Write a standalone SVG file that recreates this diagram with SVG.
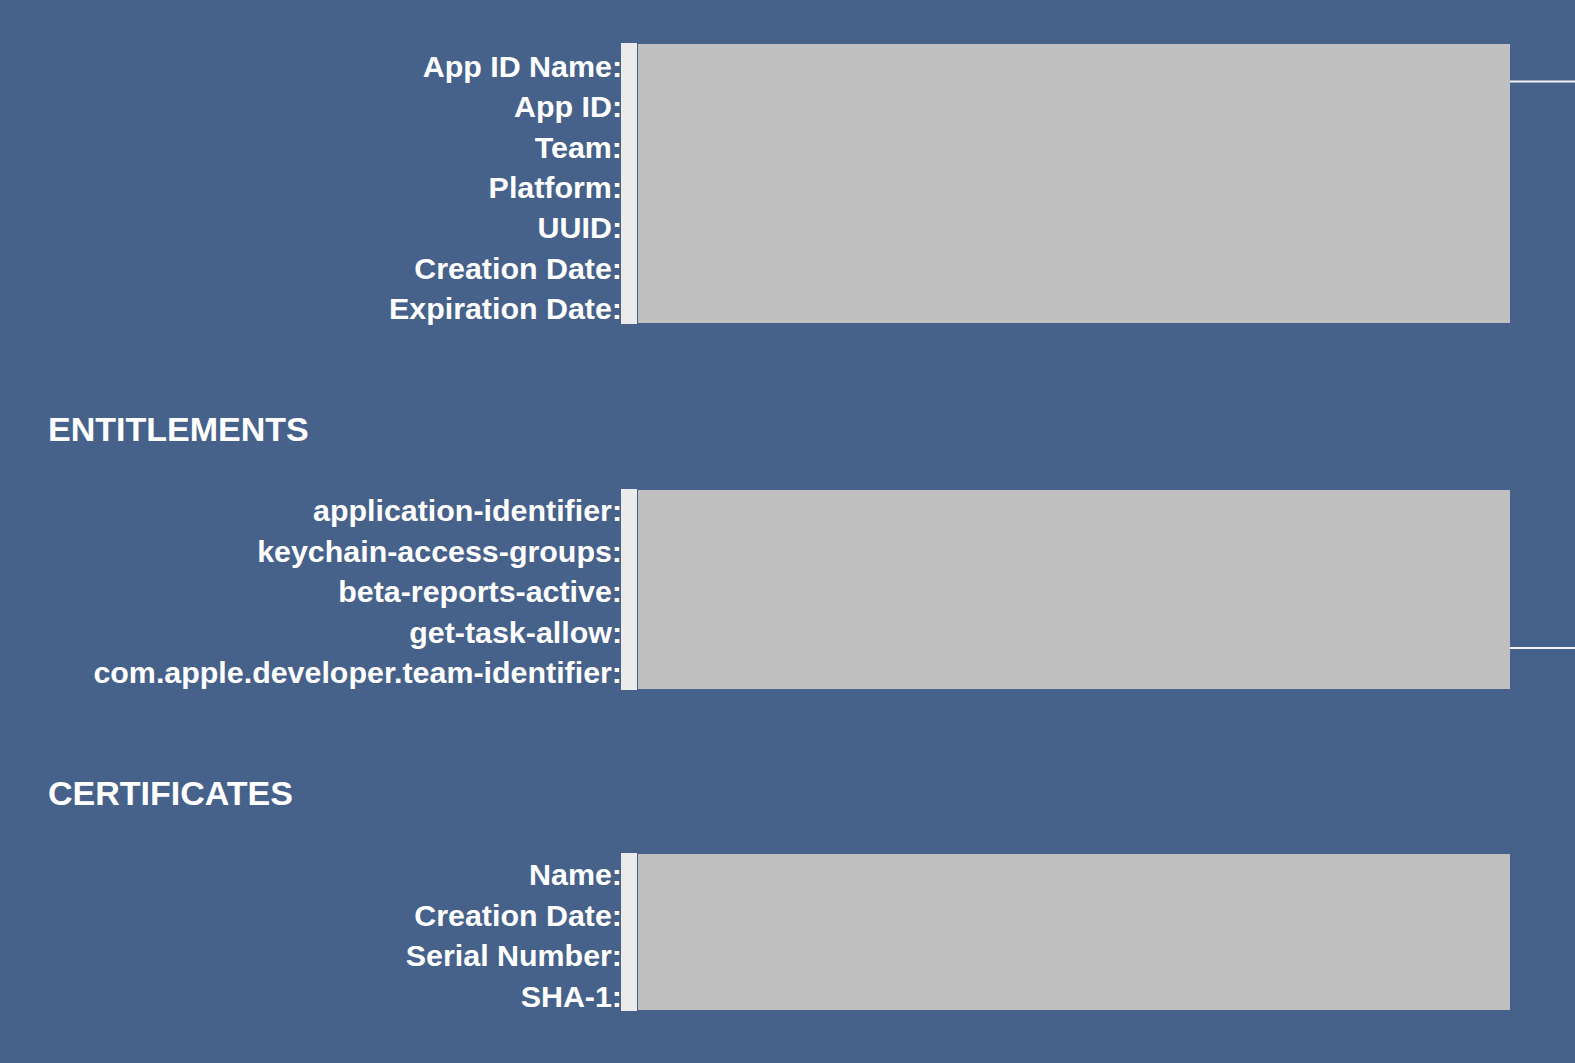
<svg xmlns="http://www.w3.org/2000/svg" width="1575" height="1063" viewBox="0 0 1575 1063">
<style>
.lbl{font-family:"Liberation Sans",Arial,sans-serif;font-weight:bold;font-size:30.4px;fill:#ffffff;text-anchor:end}
.hd{font-family:"Liberation Sans",Arial,sans-serif;font-weight:bold;font-size:34px;fill:#ffffff}
.strip{fill:#ebebeb}
.box{fill:#c0c0c0}
.conn{stroke:#f2f2f2;stroke-width:2;fill:none}
</style>
<rect width="1575" height="1063" fill="#46628a"/>
<g id="profile">
<rect class="strip" x="621" y="43" width="16" height="281"/>
<rect class="box" x="638" y="44" width="872" height="279"/>
<text class="lbl" x="622" y="77">App ID Name:</text>
<text class="lbl" x="622" y="117.3">App ID:</text>
<text class="lbl" x="622" y="157.6">Team:</text>
<text class="lbl" x="622" y="197.9">Platform:</text>
<text class="lbl" x="622" y="238.2">UUID:</text>
<text class="lbl" x="622" y="278.5">Creation Date:</text>
<text class="lbl" x="622" y="318.8">Expiration Date:</text>
</g>
<g id="entitlements">
<text class="hd" x="48" y="441">ENTITLEMENTS</text>
<rect class="strip" x="621" y="489" width="16" height="201"/>
<rect class="box" x="638" y="490" width="872" height="199"/>
<text class="lbl" x="622" y="521">application-identifier:</text>
<text class="lbl" x="622" y="561.5">keychain-access-groups:</text>
<text class="lbl" x="622" y="602">beta-reports-active:</text>
<text class="lbl" x="622" y="642.5">get-task-allow:</text>
<text class="lbl" x="622" y="683">com.apple.developer.team-identifier:</text>
</g>
<g id="certificates">
<text class="hd" x="48" y="805">CERTIFICATES</text>
<rect class="strip" x="621" y="853" width="16" height="158"/>
<rect class="box" x="638" y="854" width="872" height="156"/>
<text class="lbl" x="622" y="885">Name:</text>
<text class="lbl" x="622" y="925.5">Creation Date:</text>
<text class="lbl" x="622" y="966">Serial Number:</text>
<text class="lbl" x="622" y="1006.5">SHA-1:</text>
</g>
<g id="connectors">
<line class="conn" x1="1510" y1="81.5" x2="1575" y2="81.5"/>
<line class="conn" x1="1510" y1="648" x2="1575" y2="648"/>
</g>
</svg>
